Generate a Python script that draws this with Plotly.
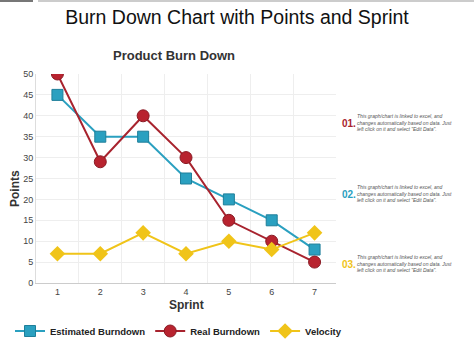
import plotly.graph_objects as go

sprints = [1, 2, 3, 4, 5, 6, 7]
estimated = [45, 35, 35, 25, 20, 15, 8]
real = [50, 29, 40, 30, 15, 10, 5]
velocity = [7, 7, 12, 7, 10, 8, 12]
y_ticks = [0, 5, 10, 15, 20, 25, 30, 35, 40, 45, 50]

note = "This graph/chart is linked to excel, and<br>changes automatically based on data. Just<br>left click on it and select \"Edit Data\"."
notes = [("01.", "#a8232e", 122), ("02.", "#2aa0c0", 193), ("03.", "#f0c419", 263)]

TEAL = "#2aa0c0"
RED = "#a8232e"
GOLD = "#f0c419"

fig = go.Figure()
fig.add_trace(go.Scatter(x=sprints, y=estimated, name="<b>Estimated Burndown</b>", mode="lines+markers",
                         line=dict(color=TEAL, width=2),
                         marker=dict(symbol="square", size=11, color=TEAL, line=dict(color="#1f7f9a", width=1))))
fig.add_trace(go.Scatter(x=sprints, y=real, name="<b>Real Burndown</b>", mode="lines+markers",
                         line=dict(color=RED, width=2),
                         marker=dict(symbol="circle", size=12, color="#b8232f", line=dict(color="#8a1a24", width=1))))
fig.add_trace(go.Scatter(x=sprints, y=velocity, name="<b>Velocity</b>", mode="lines+markers",
                         line=dict(color=GOLD, width=2),
                         marker=dict(symbol="diamond", size=12, color=GOLD)))

L, R, T, B = 36, 138, 74, 72
W, H = 474, 355
PW, PH = W - L - R, H - T - B

fig.update_layout(
    width=W, height=H,
    margin=dict(l=L, r=R, t=T, b=B, autoexpand=False),
    paper_bgcolor="white", plot_bgcolor="white",
    font=dict(family="Liberation Sans, Arial, sans-serif", color="#333333"),
    title=dict(text="Burn Down Chart with Points and Sprint", x=237 / W, xanchor="center",
               y=1 - 17 / H, yanchor="middle", font=dict(size=19.5, color="#111111")),
    showlegend=True,
    legend=dict(orientation="h", x=(10 - L) / PW, xanchor="left",
                y=-(331 - (H - B)) / PH, yanchor="middle", font=dict(size=9.5, color="#222222"),
                itemwidth=30, tracegroupgap=0, bgcolor="rgba(0,0,0,0)"),
    xaxis=dict(range=[0.5, 7.5], tickvals=sprints, ticktext=[str(s) for s in sprints], automargin=False,
               showgrid=False, zeroline=False, showline=True, linecolor="#cccccc", linewidth=1,
               ticks="", tickfont=dict(size=9, color="#444444"),
               minor=dict(tickvals=[0.5 + i for i in range(8)], showgrid=True, gridcolor="#eeeeee", gridwidth=1)),
    yaxis=dict(range=[0, 50], tickvals=y_ticks, showgrid=True, gridcolor="#eeeeee", gridwidth=1, automargin=False,
               zeroline=False, showline=True, linecolor="#dddddd", linewidth=1,
               ticks="", tickfont=dict(size=9, color="#444444")),
)

# axis titles
fig.add_annotation(text="<b>Sprint</b>", xref="paper", yref="paper", x=(186 - L) / PW, y=-(305 - (H - B)) / PH,
                   xanchor="center", yanchor="middle", showarrow=False, font=dict(size=12, color="#333333"))
fig.add_annotation(text="<b>Points</b>", xref="paper", yref="paper", x=-(L - 15) / PW, y=1 - (188 - T) / PH,
                   xanchor="center", yanchor="middle", textangle=-90, showarrow=False,
                   font=dict(size=12, color="#333333"))

fig.add_annotation(text="<b>Product Burn Down</b>", xref="paper", yref="paper",
                   x=(174 - L) / PW, y=1 + (T - 55) / PH, xanchor="center", yanchor="middle",
                   showarrow=False, font=dict(size=13, color="#333333"))

for num, col, yy in notes:
    yp = 1 - (yy - T) / PH
    fig.add_annotation(text="<b>" + num + "</b>", xref="paper", yref="paper", x=(340 - L) / PW, y=yp - 1 / PH,
                       xanchor="left", yanchor="middle", showarrow=False,
                       font=dict(size=10, color=col))
    fig.add_annotation(text="<i>" + note + "</i>", xref="paper", yref="paper", x=(355 - L) / PW,
                       y=yp, xanchor="left", yanchor="middle", showarrow=False, align="left",
                       font=dict(size=5, color="#555555"))

fig.add_shape(type="rect", xref="paper", yref="paper", x0=-L / PW, x1=-(L - 33) / PW,
              y0=1 + (T - 2) / PH, y1=1 + T / PH, fillcolor="#777777", line_width=0)
fig.add_shape(type="rect", xref="paper", yref="paper", x0=-(L - 38) / PW, x1=1 + R / PW,
              y0=1 + (T - 2) / PH, y1=1 + T / PH, fillcolor="#cccccc", line_width=0)

fig.write_html("out.html", config={"displayModeBar": False},
               post_script="document.body.style.margin='0';document.body.style.overflow='hidden';")
